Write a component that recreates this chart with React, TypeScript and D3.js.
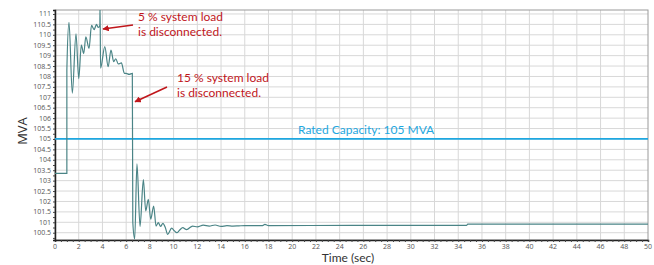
import React from "react";
import * as d3 from "d3";

// time (sec) and apparent power (MVA)
const times = [
  0, 1.0, 1.0, 1.18, 1.46, 1.77, 2.0, 2.22, 2.42, 2.6, 2.87, 3.08, 3.3, 3.5, 3.65, 3.78,
  3.8, 3.84, 4.2, 4.48, 4.72, 4.95, 5.12, 5.34, 5.6, 5.85, 6.0, 6.25, 6.52, 6.56, 6.72,
  6.91, 7.17, 7.45, 7.65, 7.87, 8.07, 8.32, 8.52, 8.71, 8.9, 9.1, 9.3, 9.5, 9.84, 10.05,
  10.27, 10.5, 10.77, 11.1, 11.6, 12.0, 12.5, 13.0, 13.5, 14.0, 14.5, 15.0, 15.5, 16.0,
  17.0, 17.5, 17.7, 18.0, 25, 34.7, 34.8, 50,
];
const mva = [
  103.35, 103.35, 108.3, 110.6, 107.2, 110.05, 107.9, 109.5, 109.1, 109.9, 109.35, 110.45,
  110.25, 110.5, 110.35, 110.45, 111.4, 108.4, 109.43, 108.47, 109.27, 108.71, 108.85, 108.6,
  108.65, 108.15, 108.15, 108.1, 108.15, 101.0, 100.2, 103.8, 100.8, 103.05, 101.55, 102.1,
  101.15, 101.78, 100.82, 100.98, 100.8, 100.95, 100.75, 100.42, 100.72, 100.6, 100.5, 100.62,
  100.74, 100.65, 100.82, 100.78, 100.86, 100.82, 100.87, 100.8, 100.84, 100.82, 100.83, 100.84,
  100.84, 100.84, 100.9, 100.84, 100.85, 100.85, 100.91, 100.91,
];

const xTicks = d3.range(0, 51, 2);
const yTicks = d3.range(100.5, 111.01, 0.5);
const ratedCapacity = 105;

// arrow targets in data units, text anchor in pixels
const notes = [
  { t: 4.05, v: 110.28, lines: ["5 % system load", "is disconnected."], tx: 138, ty: 21, ax: 133, ay: 25 },
  { t: 6.75, v: 106.79, lines: ["15 % system load", "is disconnected."], tx: 177, ty: 82, ax: 167, ay: 87 },
];

const W = 654;
const H = 265;
const margin = { left: 55, right: 6, top: 10, bottom: 25 };
const font = "Lato, 'Open Sans', sans-serif";

export default function App() {
  const ref = React.useRef<SVGSVGElement>(null);

  React.useEffect(() => {
    const svg = d3.select(ref.current);
    svg.selectAll("*").remove();

    const x = d3.scaleLinear().domain([0, 50]).range([margin.left, W - margin.right]);
    const y = d3.scaleLinear().domain([100.15, 111.19]).range([H - margin.bottom, margin.top]);

    svg.append("rect").attr("width", W).attr("height", H).attr("fill", "#fff");

    // grid
    svg.append("g").selectAll("line").data(xTicks.slice(1, -1)).join("line")
      .attr("x1", (d) => x(d)).attr("x2", (d) => x(d))
      .attr("y1", margin.top).attr("y2", H - margin.bottom)
      .attr("stroke", "#d8d8d8").attr("stroke-width", 1);
    svg.append("g").selectAll("line").data(yTicks).join("line")
      .attr("x1", margin.left).attr("x2", W - margin.right)
      .attr("y1", (d) => y(d)).attr("y2", (d) => y(d))
      .attr("stroke", "#d8d8d8").attr("stroke-width", 1);

    // frame
    svg.append("rect")
      .attr("x", margin.left).attr("y", margin.top)
      .attr("width", W - margin.right - margin.left).attr("height", H - margin.bottom - margin.top)
      .attr("fill", "none").attr("stroke", "#9a9a9a").attr("stroke-width", 1);

    // axes
    const xAxis = svg.append("g")
      .attr("transform", `translate(0,${H - margin.bottom})`)
      .call(d3.axisBottom(x).tickValues(d3.range(0, 50.01, 0.5)).tickSize(2).tickFormat(() => ""));
    xAxis.select(".domain").attr("stroke", "#222").attr("stroke-width", 1.5);
    xAxis.selectAll("line").attr("stroke", "#444");
    svg.append("g").selectAll("text").data(xTicks).join("text")
      .attr("x", (d) => x(d)).attr("y", H - margin.bottom + 9)
      .attr("text-anchor", "middle").attr("font-size", 7).attr("fill", "#555")
      .attr("font-family", "Open Sans, sans-serif")
      .text((d) => d);

    const yAxis = svg.append("g")
      .attr("transform", `translate(${margin.left},0)`)
      .call(d3.axisLeft(y).tickValues(d3.range(100.25, 111.01, 0.25)).tickSize(2).tickFormat(() => ""));
    yAxis.select(".domain").attr("stroke", "#222").attr("stroke-width", 1.5);
    yAxis.selectAll("line").attr("stroke", "#444");
    svg.append("g").selectAll("text").data(yTicks).join("text")
      .attr("x", margin.left - 4).attr("y", (d) => y(d) + 2.5)
      .attr("text-anchor", "end").attr("font-size", 7).attr("fill", "#555")
      .attr("font-family", "Open Sans, sans-serif")
      .text((d) => d);

    // rated capacity
    svg.append("line")
      .attr("x1", margin.left).attr("x2", W - margin.right)
      .attr("y1", y(ratedCapacity)).attr("y2", y(ratedCapacity))
      .attr("stroke", "#1ea7e0").attr("stroke-width", 1.8);
    svg.append("text")
      .attr("x", 298).attr("y", y(ratedCapacity) - 5)
      .attr("font-size", 12).attr("fill", "#1ea7e0")
      .attr("font-family", font)
      .text("Rated Capacity: 105 MVA");

    // trace
    svg.append("clipPath").attr("id", "plotclip").append("rect")
      .attr("x", margin.left).attr("y", margin.top)
      .attr("width", W - margin.right - margin.left).attr("height", H - margin.bottom - margin.top);
    const line = d3.line<number>().x((d) => x(d)).y((_, i) => y(mva[i])).curve(d3.curveMonotoneX);
    svg.append("path")
      .attr("d", line(times))
      .attr("clip-path", "url(#plotclip)")
      .attr("fill", "none").attr("stroke", "#4a8486").attr("stroke-width", 1.2);

    // annotations
    const defs = svg.append("defs");
    defs.append("marker").attr("id", "arr").attr("viewBox", "0 0 10 10")
      .attr("refX", 9).attr("refY", 5).attr("markerWidth", 4).attr("markerHeight", 4)
      .attr("orient", "auto")
      .append("path").attr("d", "M0,0 L10,5 L0,10 z").attr("fill", "#c0161b");
    notes.forEach((n) => {
      n.lines.forEach((l, i) => svg.append("text")
        .attr("x", n.tx).attr("y", n.ty + i * 14.5)
        .attr("font-size", 12).attr("fill", "#c0161b")
        .attr("font-family", font)
        .text(l));
      svg.append("line")
        .attr("x1", n.ax).attr("y1", n.ay)
        .attr("x2", x(n.t)).attr("y2", y(n.v))
        .attr("stroke", "#c0161b").attr("stroke-width", 1.6)
        .attr("marker-end", "url(#arr)");
    });

    // axis titles
    svg.append("text")
      .attr("transform", `translate(27,${(margin.top + H - margin.bottom) / 2 + 6}) rotate(-90)`)
      .attr("text-anchor", "middle").attr("font-size", 13).attr("fill", "#333")
      .attr("font-family", "Open Sans, sans-serif")
      .text("MVA");
    svg.append("text")
      .attr("x", 348).attr("y", H - 3)
      .attr("text-anchor", "middle").attr("font-size", 12).attr("fill", "#333")
      .attr("font-family", font)
      .text("Time (sec)");
  }, []);

  return (
    <svg ref={ref} width={W} height={H}
      style={{ position: "absolute", left: 0, top: 0, display: "block" }} />
  );
}
